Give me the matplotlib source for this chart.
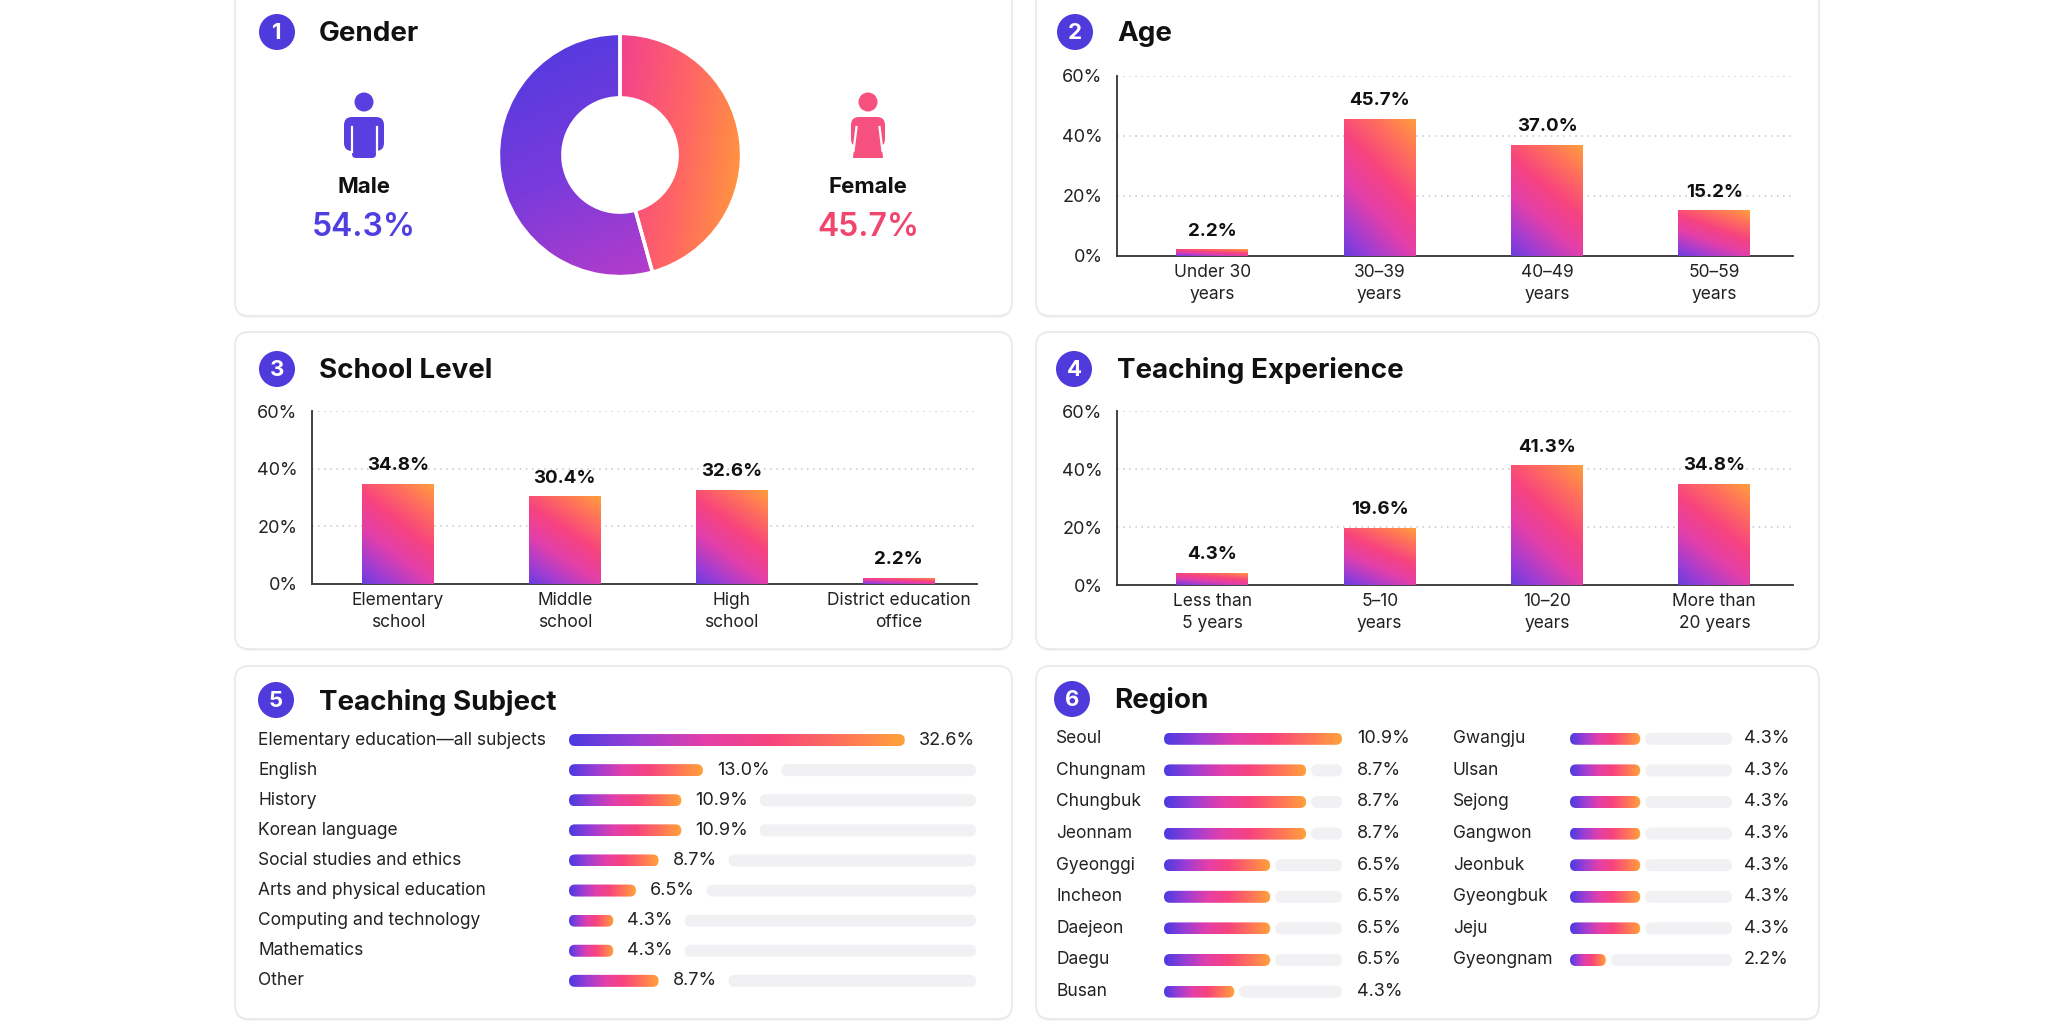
import numpy as np
import matplotlib
matplotlib.use("Agg")
import matplotlib.pyplot as plt
from matplotlib.colors import LinearSegmentedColormap
from matplotlib.patches import FancyBboxPatch, Circle, Polygon
from matplotlib.transforms import blended_transform_factory

plt.rcParams['font.family'] = ['Inter', 'DejaVu Sans']

W, H = 2048, 1024

# ---- data ----
gender_labels = ["Male", "Female"]
gender_values = [54.3, 45.7]

age_labels = ["Under 30\nyears", "30–39\nyears", "40–49\nyears", "50–59\nyears"]
age_values = [2.2, 45.7, 37.0, 15.2]

school_labels = ["Elementary\nschool", "Middle\nschool", "High\nschool",
                 "District education\noffice"]
school_values = [34.8, 30.4, 32.6, 2.2]

exp_labels = ["Less than\n5 years", "5–10\nyears", "10–20\nyears", "More than\n20 years"]
exp_values = [4.3, 19.6, 41.3, 34.8]

subject_labels = ["Elementary education—all subjects", "English", "History",
                  "Korean language", "Social studies and ethics",
                  "Arts and physical education", "Computing and technology",
                  "Mathematics", "Other"]
subject_values = [32.6, 13.0, 10.9, 10.9, 8.7, 6.5, 4.3, 4.3, 8.7]

region_labels = ["Seoul", "Chungnam", "Chungbuk", "Jeonnam", "Gyeonggi", "Incheon",
                 "Daejeon", "Daegu", "Busan", "Gwangju", "Ulsan", "Sejong",
                 "Gangwon", "Jeonbuk", "Gyeongbuk", "Jeju", "Gyeongnam"]
region_values = [10.9, 8.7, 8.7, 8.7, 6.5, 6.5, 6.5, 6.5, 4.3,
                 4.3, 4.3, 4.3, 4.3, 4.3, 4.3, 4.3, 2.2]

# ---- style ----
grad = LinearSegmentedColormap.from_list(
    "grad", ["#4B3BE0", "#9C3DD5", "#E23FAA", "#F7437F", "#FF6F5C", "#FFA23A"])
male_cmap = LinearSegmentedColormap.from_list("m", ["#4B3AE0", "#7B3BDB", "#C63CC4"])
female_cmap = LinearSegmentedColormap.from_list("f", ["#F2408F", "#FF6565", "#FF9E38"])
BADGE = "#4F3BDB"
TEXT = "#111111"
LABEL = "#222222"
TRACK = "#F1F1F4"

fig = plt.figure(figsize=(W / 100, H / 100), dpi=100)
fig.patch.set_facecolor("white")

bg = fig.add_axes([0, 0, 1, 1], zorder=-1)
bg.set_xlim(0, W)
bg.set_ylim(H, 0)
bg.axis("off")


def px_axes(x0, y0, x1, y1):
    ax = fig.add_axes([x0 / W, 1 - y1 / H, (x1 - x0) / W, (y1 - y0) / H])
    ax.set_facecolor("none")
    return ax


def card(x0, y0, x1, y1):
    bg.add_patch(FancyBboxPatch((x0, y0 + 2), x1 - x0, y1 - y0,
                                boxstyle="round,pad=0,rounding_size=14",
                                fc="black", ec="none", alpha=0.035, zorder=0))
    bg.add_patch(FancyBboxPatch((x0, y0), x1 - x0, y1 - y0,
                                boxstyle="round,pad=0,rounding_size=14",
                                fc="white", ec="#E8E8ED", lw=1.2, zorder=1))


def header(num, title, cx, cy, tx):
    bg.add_patch(Circle((cx, cy), 18, fc=BADGE, ec="none", zorder=3))
    bg.text(cx, cy + 1, str(num), color="white", fontsize=16, fontweight="bold",
            ha="center", va="center", zorder=4)
    bg.text(tx, cy + 2, title, color=TEXT, fontsize=20, fontweight="bold",
            ha="left", va="center", zorder=4)


def person(cx, color, female=False):
    bg.add_patch(Circle((cx, 102), 9.5, fc=color, ec="none", zorder=3))
    if female:
        bg.add_patch(FancyBboxPatch((cx - 17, 117), 34, 30,
                                    boxstyle="round,pad=0,rounding_size=8",
                                    fc=color, ec="none", zorder=3))
        bg.add_patch(Polygon([(cx - 11, 117), (cx + 11, 117), (cx + 15, 158), (cx - 15, 158)],
                             closed=True, fc=color, ec="none", zorder=3))
        for s in (-1, 1):
            bg.plot([cx + s * 11.5, cx + s * 14.5], [127, 151], color="white", lw=1.6, zorder=4)
    else:
        bg.add_patch(FancyBboxPatch((cx - 20, 117), 40, 34,
                                    boxstyle="round,pad=0,rounding_size=8",
                                    fc=color, ec="none", zorder=3))
        bg.add_patch(FancyBboxPatch((cx - 12, 117), 24, 41,
                                    boxstyle="round,pad=0,rounding_size=4",
                                    fc=color, ec="none", zorder=3))
        for s in (-1, 1):
            bg.plot([cx + s * 12.5, cx + s * 12.5], [127, 152], color="white", lw=1.6, zorder=4)


# ---- cards and headers ----
card(235, -20, 1012, 316)
card(1036, -20, 1819, 316)
card(235, 332, 1012, 649)
card(1036, 332, 1819, 649)
card(235, 666, 1012, 1019)
card(1036, 666, 1819, 1019)

header(1, "Gender", 277, 32, 319)
header(2, "Age", 1075, 32, 1117)
header(3, "School Level", 277, 369, 319)
header(4, "Teaching Experience", 1074, 369, 1117)
header(5, "Teaching Subject", 276, 700, 319)
header(6, "Region", 1072, 699, 1114)

# ---- 1 gender ----
person(364, "#5A3FE0")
person(868, "#F5507E", female=True)
bg.text(364, 187, gender_labels[0], ha="center", va="center", fontsize=16,
        fontweight="bold", color=TEXT)
bg.text(364, 228, f"{gender_values[0]:.1f}%", ha="center", va="center", fontsize=23,
        fontweight="semibold", color="#4F3FE0")
bg.text(868, 187, gender_labels[1], ha="center", va="center", fontsize=16,
        fontweight="bold", color=TEXT)
bg.text(868, 228, f"{gender_values[1]:.1f}%", ha="center", va="center", fontsize=23,
        fontweight="semibold", color="#F2456E")

axp = px_axes(496, 31, 744, 279)
wedges, _ = axp.pie([gender_values[1], gender_values[0]], startangle=90, counterclock=False,
                    radius=1, wedgeprops=dict(width=0.53, edgecolor="white", linewidth=2.5))
X, Y = np.meshgrid(np.linspace(-1, 1, 200), np.linspace(-1, 1, 200))
t_male = np.clip(0.3 * (X + 1) / 2 + 0.7 * (1 - Y) / 2, 0, 1)
t_female = np.clip(0.8 * X + 0.2 * (1 - Y) / 2, 0, 1)
for wedge, tt, cm in [(wedges[0], t_female, female_cmap), (wedges[1], t_male, male_cmap)]:
    wedge.set_facecolor("none")
    im = axp.imshow(tt, extent=(-1, 1, -1, 1), origin="lower", cmap=cm, vmin=0, vmax=1,
                    aspect="auto", interpolation="bilinear", zorder=0)
    im.set_clip_path(wedge)
axp.set_xlim(-1.02, 1.02)
axp.set_ylim(-1.02, 1.02)
axp.set_aspect("equal")
axp.axis("off")


# ---- vertical bar panels ----
def vbar_panel(ax, labels, values, xlim):
    x = np.arange(len(values))
    bars = ax.bar(x, values, width=0.43, color="none", edgecolor="none", zorder=3)
    gx, gy = np.meshgrid(np.linspace(0, 1, 40), np.linspace(0, 1, 120))
    tt = np.clip(0.08 + 0.32 * gx + 0.58 * gy, 0, 1)
    for b, v in zip(bars, values):
        x0, w, h = b.get_x(), b.get_width(), b.get_height()
        im = ax.imshow(tt, extent=(x0, x0 + w, 0, h), origin="lower", cmap=grad,
                       vmin=0, vmax=1, aspect="auto", interpolation="bilinear", zorder=3)
        im.set_clip_path(b)
        ax.annotate(f"{v:.1f}%", (x0 + w / 2, h), xytext=(0, 7), textcoords="offset points",
                    ha="center", va="bottom", fontsize=13.5, fontweight="bold", color=TEXT)
    ax.set_xlim(*xlim)
    ax.set_ylim(0, 60)
    ax.set_yticks([0, 20, 40, 60])
    ax.set_yticklabels([f"{t}%" for t in [0, 20, 40, 60]])
    ax.set_xticks(x)
    ax.set_xticklabels(labels, linespacing=1.35)
    ax.tick_params(axis="y", length=0, labelsize=13, colors=LABEL, pad=10.5)
    ax.tick_params(axis="x", length=0, labelsize=12.5, colors=LABEL, pad=6)
    for s in ["top", "right"]:
        ax.spines[s].set_visible(False)
    for s in ["left", "bottom"]:
        ax.spines[s].set_color("#333333")
        ax.spines[s].set_linewidth(1.3)
    ax.yaxis.grid(True, linestyle=(0, (1, 3)), color="#C6C6CC", lw=1.1)
    ax.set_axisbelow(True)


vbar_panel(px_axes(1117, 76, 1793, 256), age_labels, age_values, (-0.57, 3.47))
vbar_panel(px_axes(312, 411, 977, 584), school_labels, school_values, (-0.515, 3.47))
vbar_panel(px_axes(1117, 411, 1793, 585), exp_labels, exp_values, (-0.57, 3.47))


# ---- horizontal pill bars ----
def pill(ax, x0, x1, y, h, r_px, asp, px_per, **kw):
    p = FancyBboxPatch((x0, y - h / 2), x1 - x0, h,
                       boxstyle=f"round,pad=0,rounding_size={r_px / px_per}",
                       mutation_aspect=asp, **kw)
    ax.add_patch(p)
    return p


def hbars(ax, values, px_per, row_px, xmax):
    n = len(values)
    ax.set_xlim(0, xmax)
    ax.set_ylim(n - 0.5, -0.5)
    ax.axis("off")
    h = 12 / row_px
    asp = px_per / row_px
    gx = np.linspace(0, 1, 200)[None, :]
    for i, v in enumerate(values):
        p = pill(ax, 0, v, i, h, 6, asp, px_per, fc="none", ec="none", zorder=3)
        im = ax.imshow(gx, extent=(0, v, i + h / 2, i - h / 2), cmap=grad, vmin=0, vmax=1,
                       aspect="auto", interpolation="bilinear", zorder=3)
        im.set_clip_path(p)
    ax.set_xlim(0, xmax)
    ax.set_ylim(n - 0.5, -0.5)
    return h, asp


# panel 5
px5, row5 = 10.3, 30.1
ax5 = px_axes(569, 725, 976, 725 + 9 * row5)
xmax5 = 407 / px5
h5, asp5 = hbars(ax5, subject_values, px5, row5, xmax5)
tr5 = blended_transform_factory(fig.transFigure, ax5.transData)
vals5 = []
for i, (lab, v) in enumerate(zip(subject_labels, subject_values)):
    ax5.text(258 / W, i, lab, transform=tr5, ha="left", va="center", fontsize=12.5, color=LABEL)
    vals5.append(ax5.annotate(f"{v:.1f}%", (v, i), xytext=(10, 0), textcoords="offset points",
                              ha="left", va="center", fontsize=13, color=LABEL))

# panel 6
px6, row6 = 178 / 10.9, 31.6
ax6a = px_axes(1164, 723, 1342, 723 + 9 * row6)
ax6b = px_axes(1570, 723, 1732, 723 + 8 * row6)
left_lab, left_val = region_labels[:9], region_values[:9]
right_lab, right_val = region_labels[9:], region_values[9:]
cols = [(ax6a, left_lab, left_val, 10.9, 1056, 1357),
        (ax6b, right_lab, right_val, 162 / px6, 1453, 1744)]
for ax, labs, vals, xmax, name_x, val_x in cols:
    h6, asp6 = hbars(ax, vals, px6, row6, xmax)
    tr = blended_transform_factory(fig.transFigure, ax.transData)
    for i, (lab, v) in enumerate(zip(labs, vals)):
        ax.text(name_x / W, i, lab, transform=tr, ha="left", va="center", fontsize=12.5, color=LABEL)
        ax.text(val_x / W, i, f"{v:.1f}%", transform=tr, ha="left", va="center",
                fontsize=13, color=LABEL)
        start = v + 5 / px6
        if start < xmax - 0.2:
            pill(ax, start, xmax, i, h6, 6, asp6, px6, fc=TRACK, ec="none", zorder=2)

# tracks for panel 5 start after the value labels
fig.canvas.draw()
renderer = fig.canvas.get_renderer()
inv = ax5.transData.inverted()
for i, t in enumerate(vals5):
    bb = t.get_window_extent(renderer)
    start = inv.transform((bb.x1, 0))[0] + 12 / px5
    if start < xmax5 - 1:
        pill(ax5, start, xmax5, i, h5, 6, asp5, px5, fc=TRACK, ec="none", zorder=2)

fig.savefig("out.png", dpi=100, facecolor="white")
